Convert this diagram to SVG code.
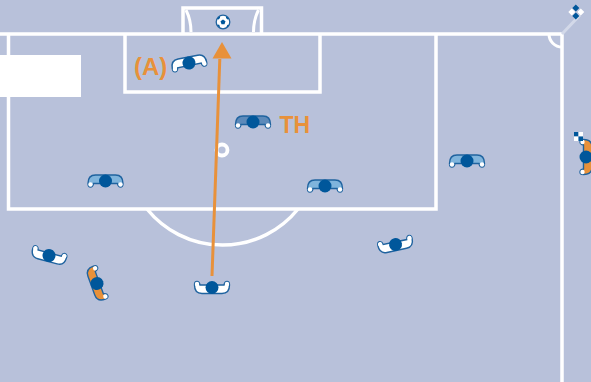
<svg xmlns="http://www.w3.org/2000/svg" width="591" height="382" viewBox="0 0 591 382">
<style>
.ln{fill:none;stroke:#fff;stroke-width:3.5}
.lbl{font-family:"Liberation Sans",Arial,sans-serif;font-weight:700;fill:#e8913a}
.w{fill:#fff}.lb{fill:#7fb4dc}.db{fill:#5c8aba}.or{fill:#e8913a}
.dk{fill:#00579b}
</style>
<defs>
<g id="pl">
<path stroke="#1f639f" stroke-width="1.4" d="M-17.500,2.500 Q-17.500,-6 -10,-6 H10 Q17.500,-6 17.500,2.500 Q17.500,6 15,6 Q12.700,6 12,2.500 H-12 Q-12.700,6 -15,6 Q-17.500,6 -17.500,2.500Z"/>
<circle cx="-15" cy="3.500" r="2.200" fill="#fff"/>
<circle cx="15" cy="3.500" r="2.200" fill="#fff"/>
<circle r="6.500" class="dk"/>
</g>
</defs>
<rect width="591" height="382" fill="#b8c1da"/>
<g id="pitch">
<path class="ln" d="M0,34 H562 V382"/>
<path class="ln" d="M8.500,34 V209 H436 V34"/>
<path class="ln" d="M125,34 V92 H320 V34"/>
<path class="ln" d="M183,34 V8 H261.500 V34"/>
<path class="ln" style="stroke-width:3" d="M186,10 Q191,20 191,32 M258.500,10 Q253.500,20 253.500,32"/>
<path class="ln" d="M147,209 A97,97 0 0 0 298,209"/>
<path class="ln" style="stroke-width:3" d="M549,34 A13,13 0 0 0 562,47"/>
<circle class="ln" style="stroke-width:3.800" cx="222" cy="150" r="5.500"/>
<path d="M562,34 L580,15" stroke="#d3d9e9" stroke-width="3" fill="none"/>
<rect x="0" y="55" width="81" height="42" fill="#fff"/>
</g>
<g id="corner-flag">
<path d="M575.800,4.500 l3.500,3.500 l-3.500,3.500 l-3.500,-3.500Z M575.800,12.500 l3.500,3.500 l-3.500,3.500 l-3.500,-3.500Z" class="dk"/>
<path d="M571.500,8.500 l3.500,3.500 l-3.500,3.500 l-3.500,-3.500Z M580.500,8.500 l3.500,3.500 l-3.500,3.500 l-3.500,-3.500Z" fill="#fff" transform="translate(.3,0)"/>
</g>
<g id="ball">
<circle cx="223" cy="22" r="6.800" fill="#fff" stroke="#1f639f" stroke-width="1.300"/>
<path class="dk" d="M223,19.500 l2.500,1.800 l-1,3 h-3 l-1,-3Z M218,17.500 l2,-1 l0,1.500 l-1.500,1.500 l-1.500,-.5Z M226,16.500 l2,1 l1,1.500 l-1.500,.5 l-1.500,-1.500Z M217.500,25 l1.500,-.5 l1,2 l-1,.7Z M226.500,26.700 l1,-2 l1.500,.5 l-1.500,2Z"/>
</g>
<g id="p-a" transform="translate(189,63) rotate(-11)"><use href="#pl" class="w"/></g>
<g id="p-th" transform="translate(253,122)"><use href="#pl" class="db"/></g>
<g id="p-d1" transform="translate(105.500,181)"><use href="#pl" class="lb"/></g>
<g id="p-d2" transform="translate(325,186)"><use href="#pl" class="lb"/></g>
<g id="p-d3" transform="translate(467,161)"><use href="#pl" class="lb"/></g>
<g id="p-shooter" transform="translate(212,287.500) scale(1,-1)"><use href="#pl" class="w"/></g>
<g id="p-w1" transform="translate(395.500,244.500) rotate(-12) scale(1,-1)"><use href="#pl" class="w"/></g>
<g id="p-w2" transform="translate(49,255.500) rotate(15) scale(1,-1)"><use href="#pl" class="w"/></g>
<g id="p-o1" transform="translate(97,283.500) rotate(70) scale(1,-1)"><use href="#pl" class="or"/></g>
<g id="p-o2" transform="translate(586,157) rotate(-90) scale(1,-1)"><use href="#pl" class="or"/></g>
<g id="flag">
<rect x="574" y="132" width="4.500" height="4.500" class="dk"/>
<rect x="578.500" y="132" width="4.500" height="4.500" fill="#fff"/>
<rect x="574" y="136.500" width="4.500" height="4.500" fill="#fff"/>
<rect x="578.500" y="136.500" width="4.500" height="4.500" class="dk"/>
</g>
<g id="connectors">
<path d="M212,276 L219.800,59" stroke="#e8913a" stroke-width="3" fill="none"/>
<path d="M222,42 L231.500,58.500 L212.500,58.500Z" fill="#e8913a"/>
</g>
<text class="lbl" x="134" y="75" font-size="24">(A)</text>
<text class="lbl" x="279.500" y="133" font-size="23">TH</text>
</svg>
